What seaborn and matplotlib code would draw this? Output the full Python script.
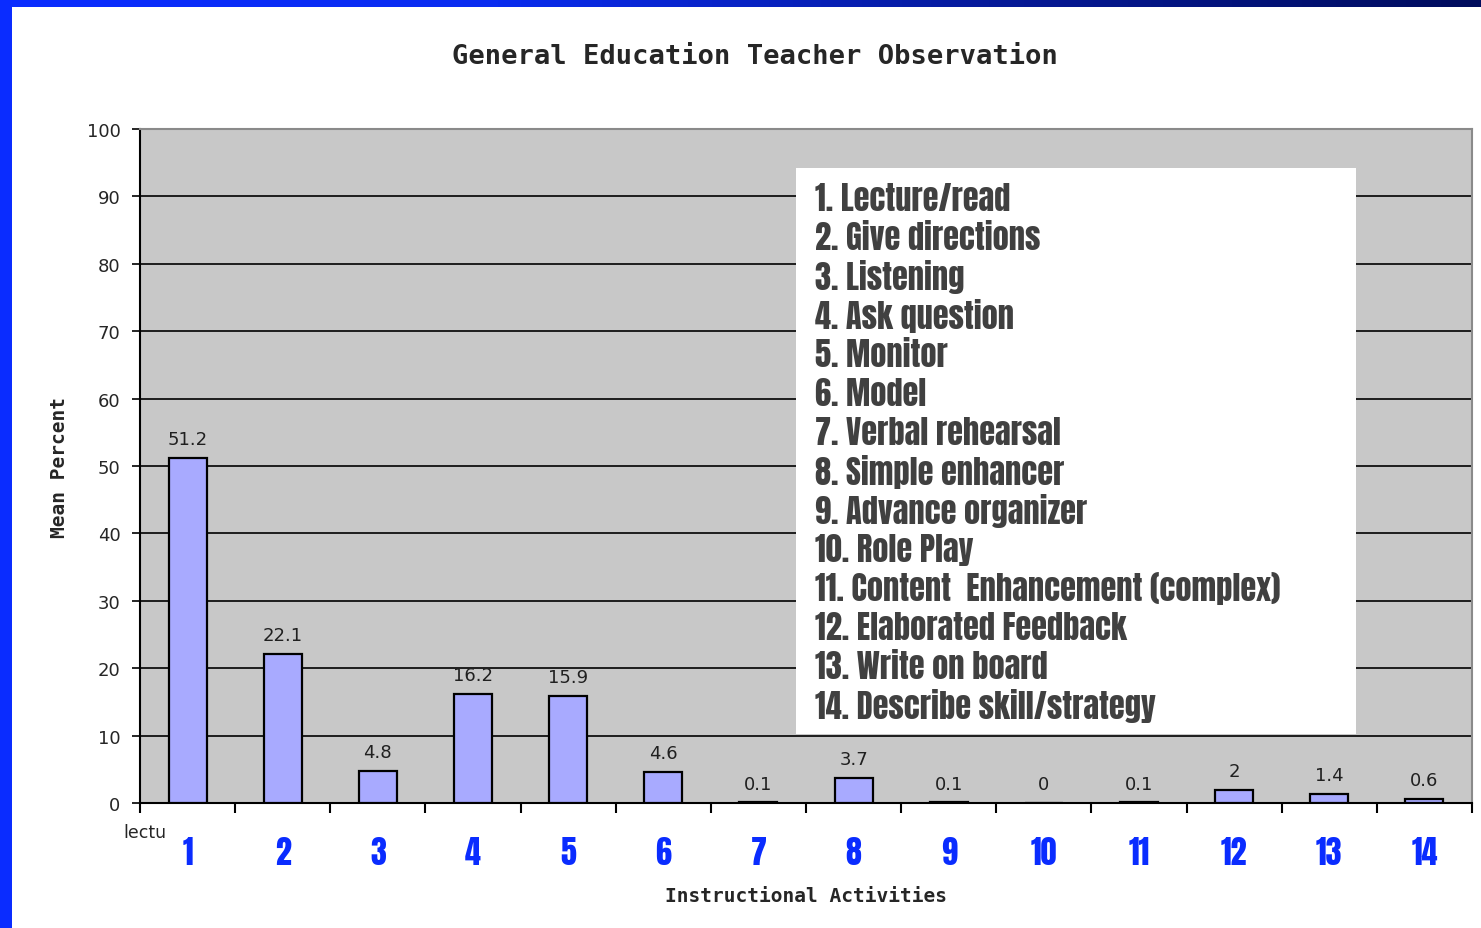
import numpy as np
import pandas as pd
import matplotlib.pyplot as plt
import matplotlib.patches as mpatches
from matplotlib.colors import LinearSegmentedColormap
import seaborn as sns

sns.set_theme(style="white")
plt.rcParams['font.family'] = ['DejaVu Sans']

# 数据
activities = [str(i) for i in range(1, 15)]
mean_percent = [51.2, 22.1, 4.8, 16.2, 15.9, 4.6, 0.1, 3.7, 0.1, 0, 0.1, 2, 1.4, 0.6]
value_labels = ['51.2', '22.1', '4.8', '16.2', '15.9', '4.6', '0.1', '3.7', '0.1', '0',
                '0.1', '2', '1.4', '0.6']
legend_items = ['1. Lecture/read', '2. Give directions', '3. Listening', '4. Ask question',
                '5. Monitor', '6. Model', '7. Verbal rehearsal', '8. Simple enhancer',
                '9. Advance organizer', '10. Role Play',
                '11. Content  Enhancement (complex)', '12. Elaborated Feedback',
                '13. Write on board', '14. Describe skill/strategy']

df = pd.DataFrame({'activity': activities, 'pct': mean_percent})

IMPACT = ['Anton', 'DejaVu Sans']
MONO = ['DejaVu Sans Mono']

W, H = 1481, 929
fig = plt.figure(figsize=(W / 100, H / 100), dpi=100)
fig.patch.set_facecolor('white')


def fx(px):
    return px / W


def fy(py):
    return 1 - py / H


# 幻灯片边框 (左侧蓝条 + 顶部渐变)
bg = fig.add_axes([0, 0, 1, 1], zorder=-5)
bg.set_axis_off()
bg.set_xlim(0, W)
bg.set_ylim(H, 0)
grad = np.linspace(0, 1, 256)[None, :]
cmap = LinearSegmentedColormap.from_list('slide', ['#0a2cff', '#0a2cf0', '#061a9a', '#000c5c'])
bg.imshow(grad, aspect='auto', cmap=cmap, extent=[0, W, 8, 0])
bg.add_patch(mpatches.Rectangle((0, 0), 12, H, color='#0a2cff', lw=0))

ax = fig.add_axes([fx(140), fy(804), fx(1472 - 140), (804 - 130) / H])
ax.set_facecolor('#c8c8c8')

sns.barplot(data=df, x='activity', y='pct', color='#a8aaff', saturation=1,
            width=0.4, edgecolor='black', linewidth=1.6, ax=ax, zorder=3)
ax.bar_label(ax.containers[0], labels=value_labels, padding=7, fontsize=13, color='#202020')

ax.set_ylim(0, 100)
ax.set_xlim(-0.5, 13.5)
ax.set_yticks(range(0, 101, 10))
ax.tick_params(axis='y', labelsize=13, length=6, width=1.2, color='black', direction='out',
               left=True, pad=8)
ax.yaxis.grid(True, color='black', linewidth=1.2)
ax.set_axisbelow(True)

# x 轴: 分隔刻度 + 蓝色大号编号
ax.set_xticks(np.arange(-0.5, 14, 1), minor=True)
ax.tick_params(axis='x', which='minor', length=7, width=1.5, color='black', direction='out',
               bottom=True)
ax.set_xticks(range(14))
ax.set_xticklabels(activities, fontsize=23, color='#0a2cff', family=IMPACT)
ax.tick_params(axis='x', which='major', length=0, pad=24)

for side in ['top', 'right']:
    ax.spines[side].set_color('#8a8a8a')
    ax.spines[side].set_linewidth(1.5)
ax.spines['left'].set_color('black')
ax.spines['bottom'].set_color('black')
ax.spines['left'].set_linewidth(1.5)
ax.spines['bottom'].set_linewidth(1.5)

ax.set_xlabel('Instructional Activities', fontsize=14, fontweight='bold', family=MONO)
ax.set_ylabel('Mean Percent', fontsize=14, fontweight='bold', family=MONO)
ax.xaxis.set_label_coords(0.5, -0.123)
ax.yaxis.set_label_coords(-0.053, 0.5)

fig.text(fx(755), fy(57), 'General Education Teacher Observation', ha='center', va='center',
         fontsize=19.5, fontweight='bold', family=MONO)
fig.text(fx(123), fy(833), 'lectu', ha='left', va='center', fontsize=12.5)

# 说明框
fig.patches.append(mpatches.Rectangle((fx(796), fy(735)), fx(1356 - 796), (735 - 169) / H,
                                      transform=fig.transFigure, facecolor='white',
                                      edgecolor='none', zorder=5))
for i, item in enumerate(legend_items):
    fig.text(fx(815), fy(199 + i * 39), item, ha='left', va='center', fontsize=23.3,
             color='#404040', family=IMPACT, zorder=6)

fig.savefig('out.png', dpi=100)
